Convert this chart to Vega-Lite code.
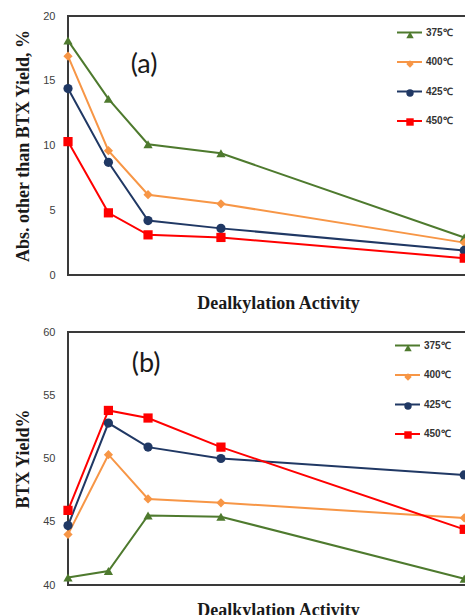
{
  "$schema": "https://vega.github.io/schema/vega-lite/v6.json",
  "padding": {"left": 13, "top": 9, "right": 0, "bottom": 0},
  "background": "white",
  "config": {
    "view": {"stroke": "#3a3a3a", "strokeWidth": 2},
    "axis": {
      "grid": false, "ticks": false, "domain": false,
      "labelFont": "Liberation Sans", "labelFontSize": 11, "labelColor": "#404040",
      "titleFont": "Liberation Serif", "titleFontWeight": "bold", "titleFontSize": 18, "titleColor": "#1a1a1a"
    },
    "legend": {
      "labelFont": "Liberation Sans", "labelFontSize": 10, "labelFontWeight": "bold", "labelColor": "#333333"
    }
  },
  "datasets": {
    "series": [
      {"panel": "a", "T": "375℃", "temp": 375, "x": 0, "y": 18.1},
      {"panel": "a", "T": "375℃", "temp": 375, "x": 10.2, "y": 13.6},
      {"panel": "a", "T": "375℃", "temp": 375, "x": 20.2, "y": 10.1},
      {"panel": "a", "T": "375℃", "temp": 375, "x": 38.6, "y": 9.4},
      {"panel": "a", "T": "375℃", "temp": 375, "x": 100, "y": 2.9},
      {"panel": "a", "T": "400℃", "temp": 400, "x": 0, "y": 16.9},
      {"panel": "a", "T": "400℃", "temp": 400, "x": 10.2, "y": 9.6},
      {"panel": "a", "T": "400℃", "temp": 400, "x": 20.2, "y": 6.2},
      {"panel": "a", "T": "400℃", "temp": 400, "x": 38.6, "y": 5.5},
      {"panel": "a", "T": "400℃", "temp": 400, "x": 100, "y": 2.5},
      {"panel": "a", "T": "425℃", "temp": 425, "x": 0, "y": 14.4},
      {"panel": "a", "T": "425℃", "temp": 425, "x": 10.2, "y": 8.7},
      {"panel": "a", "T": "425℃", "temp": 425, "x": 20.2, "y": 4.2},
      {"panel": "a", "T": "425℃", "temp": 425, "x": 38.6, "y": 3.6},
      {"panel": "a", "T": "425℃", "temp": 425, "x": 100, "y": 1.9},
      {"panel": "a", "T": "450℃", "temp": 450, "x": 0, "y": 10.3},
      {"panel": "a", "T": "450℃", "temp": 450, "x": 10.2, "y": 4.8},
      {"panel": "a", "T": "450℃", "temp": 450, "x": 20.2, "y": 3.1},
      {"panel": "a", "T": "450℃", "temp": 450, "x": 38.6, "y": 2.9},
      {"panel": "a", "T": "450℃", "temp": 450, "x": 100, "y": 1.3},
      {"panel": "b", "T": "375℃", "temp": 375, "x": 0, "y": 40.6},
      {"panel": "b", "T": "375℃", "temp": 375, "x": 10.2, "y": 41.1},
      {"panel": "b", "T": "375℃", "temp": 375, "x": 20.2, "y": 45.5},
      {"panel": "b", "T": "375℃", "temp": 375, "x": 38.6, "y": 45.4},
      {"panel": "b", "T": "375℃", "temp": 375, "x": 100, "y": 40.5},
      {"panel": "b", "T": "400℃", "temp": 400, "x": 0, "y": 44.0},
      {"panel": "b", "T": "400℃", "temp": 400, "x": 10.2, "y": 50.3},
      {"panel": "b", "T": "400℃", "temp": 400, "x": 20.2, "y": 46.8},
      {"panel": "b", "T": "400℃", "temp": 400, "x": 38.6, "y": 46.5},
      {"panel": "b", "T": "400℃", "temp": 400, "x": 100, "y": 45.3},
      {"panel": "b", "T": "425℃", "temp": 425, "x": 0, "y": 44.7},
      {"panel": "b", "T": "425℃", "temp": 425, "x": 10.2, "y": 52.8},
      {"panel": "b", "T": "425℃", "temp": 425, "x": 20.2, "y": 50.9},
      {"panel": "b", "T": "425℃", "temp": 425, "x": 38.6, "y": 50.0},
      {"panel": "b", "T": "425℃", "temp": 425, "x": 100, "y": 48.7},
      {"panel": "b", "T": "450℃", "temp": 450, "x": 0, "y": 45.9},
      {"panel": "b", "T": "450℃", "temp": 450, "x": 10.2, "y": 53.8},
      {"panel": "b", "T": "450℃", "temp": 450, "x": 20.2, "y": 53.2},
      {"panel": "b", "T": "450℃", "temp": 450, "x": 38.6, "y": 50.9},
      {"panel": "b", "T": "450℃", "temp": 450, "x": 100, "y": 44.4}
    ],
    "labels": [
      {"panel": "a", "x": 19.2, "y": 16.2, "label": "(a)"},
      {"panel": "b", "x": 19.7, "y": 57.5, "label": "(b)"}
    ]
  },
  "resolve": {
    "scale": {"color": "independent", "shape": "independent"},
    "legend": {"color": "independent", "shape": "independent"}
  },
  "spacing": 12,
  "vconcat": [
    {
      "width": 420, "height": 259,
      "layer": [
        {
          "data": {"name": "series"},
          "transform": [{"filter": "datum.panel == 'a'"}],
          "mark": {"type": "line", "strokeWidth": 2},
          "encoding": {
            "x": {"field": "x", "type": "quantitative", "scale": {"domain": [0, 106], "nice": false, "zero": false},
                  "axis": {"labels": false, "title": "Dealkylation Activity", "titlePadding": 19}},
            "y": {"field": "y", "type": "quantitative", "scale": {"domain": [0, 20], "nice": false},
                  "axis": {"values": [0, 5, 10, 15, 20], "title": "Abs. other than BTX Yield, %", "labelPadding": 13, "titlePadding": 10}},
            "color": {"field": "T", "type": "nominal",
                      "scale": {"domain": ["375℃", "400℃", "425℃", "450℃"], "range": ["#4e7a2e", "#f79646", "#203864", "#ff0000"]},
                      "legend": {"title": null, "orient": "none", "legendX": 328, "legendY": 3, "symbolType": "stroke", "symbolSize": 625, "symbolStrokeWidth": 2, "rowPadding": 10.5, "labelOffset": 3}}
          }
        },
        {
          "data": {"name": "series"},
          "transform": [{"filter": "datum.panel == 'a'"}],
          "mark": {"type": "point", "filled": true, "opacity": 1, "size": 85},
          "encoding": {
            "x": {"field": "x", "type": "quantitative"},
            "y": {"field": "y", "type": "quantitative"},
            "color": {"field": "T", "type": "nominal", "legend": null},
            "shape": {"field": "temp", "type": "nominal",
                      "scale": {"domain": [375, 400, 425, 450], "range": ["triangle-up", "diamond", "circle", "square"]},
                      "legend": {"title": null, "orient": "none", "legendX": 337, "legendY": 14, "symbolSize": 55, "labelExpr": "''", "rowPadding": 19,
                                 "symbolFillColor": "#000000", "symbolOpacity": 1, "symbolStrokeWidth": 0,
                                 "encode": {"symbols": {"update": {"fill": {"signal": "datum.value == 375 ? '#4e7a2e' : datum.value == 400 ? '#f79646' : datum.value == 425 ? '#203864' : '#ff0000'"}}}}}}
          }
        },
        {
          "data": {"name": "labels"},
          "transform": [{"filter": "datum.panel == 'a'"}],
          "mark": {"type": "text", "font": "Lato", "fontSize": 27, "color": "#1a1a1a", "align": "center", "baseline": "middle"},
          "encoding": {
            "x": {"field": "x", "type": "quantitative"},
            "y": {"field": "y", "type": "quantitative"},
            "text": {"field": "label"}
          }
        }
      ]
    },
    {
      "width": 420, "height": 253,
      "layer": [
        {
          "data": {"name": "series"},
          "transform": [{"filter": "datum.panel == 'b'"}],
          "mark": {"type": "line", "strokeWidth": 2},
          "encoding": {
            "x": {"field": "x", "type": "quantitative", "scale": {"domain": [0, 106], "nice": false, "zero": false},
                  "axis": {"labels": false, "title": "Dealkylation Activity", "titlePadding": 16}},
            "y": {"field": "y", "type": "quantitative", "scale": {"domain": [40, 60], "nice": false, "zero": false},
                  "axis": {"values": [40, 45, 50, 55, 60], "title": "BTX Yield%", "labelPadding": 13, "titlePadding": 10}},
            "color": {"field": "T", "type": "nominal",
                      "scale": {"domain": ["375℃", "400℃", "425℃", "450℃"], "range": ["#4e7a2e", "#f79646", "#203864", "#ff0000"]},
                      "legend": {"title": null, "orient": "none", "legendX": 326, "legendY": 0, "symbolType": "stroke", "symbolSize": 625, "symbolStrokeWidth": 2, "rowPadding": 10.5, "labelOffset": 3}}
          }
        },
        {
          "data": {"name": "series"},
          "transform": [{"filter": "datum.panel == 'b'"}],
          "mark": {"type": "point", "filled": true, "opacity": 1, "size": 85},
          "encoding": {
            "x": {"field": "x", "type": "quantitative"},
            "y": {"field": "y", "type": "quantitative"},
            "color": {"field": "T", "type": "nominal", "legend": null},
            "shape": {"field": "temp", "type": "nominal",
                      "scale": {"domain": [375, 400, 425, 450], "range": ["triangle-up", "diamond", "circle", "square"]},
                      "legend": {"title": null, "orient": "none", "legendX": 335, "legendY": 11, "symbolSize": 55, "labelExpr": "''", "rowPadding": 19,
                                 "symbolFillColor": "#000000", "symbolOpacity": 1, "symbolStrokeWidth": 0,
                                 "encode": {"symbols": {"update": {"fill": {"signal": "datum.value == 375 ? '#4e7a2e' : datum.value == 400 ? '#f79646' : datum.value == 425 ? '#203864' : '#ff0000'"}}}}}}
          }
        },
        {
          "data": {"name": "labels"},
          "transform": [{"filter": "datum.panel == 'b'"}],
          "mark": {"type": "text", "font": "Lato", "fontSize": 27, "color": "#1a1a1a", "align": "center", "baseline": "middle"},
          "encoding": {
            "x": {"field": "x", "type": "quantitative"},
            "y": {"field": "y", "type": "quantitative"},
            "text": {"field": "label"}
          }
        }
      ]
    }
  ]
}
